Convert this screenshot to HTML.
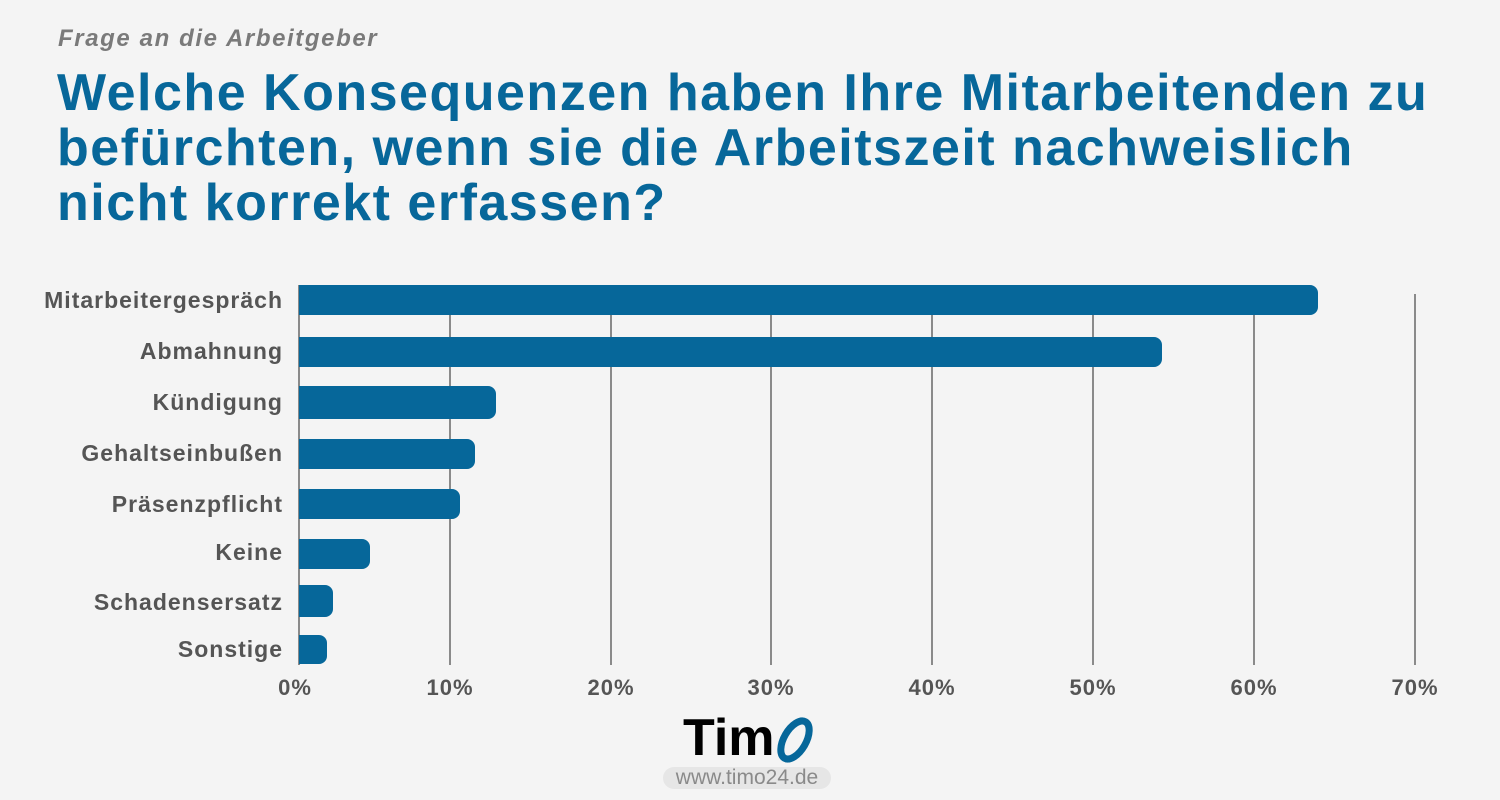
<!DOCTYPE html>
<html><head><style>
body{margin:0;width:1500px;height:800px;background:#f4f4f4;position:relative;overflow:hidden;font-family:"Liberation Sans","DejaVu Sans",sans-serif}
.sub{position:absolute;left:58px;top:25px;font-size:24px;font-style:italic;font-weight:bold;color:#7a7a7a;letter-spacing:1.6px}
.t{position:absolute;left:57px;top:66px;font-size:52px;line-height:55px;font-weight:bold;color:#07679a;letter-spacing:1.5px}
.lab{position:absolute;right:1217px;font-size:23px;font-weight:bold;color:#555;text-align:right;white-space:nowrap;letter-spacing:1px}
.bar{position:absolute;left:299px;background:#06679a;border-radius:0 8px 8px 0}
.g{position:absolute;top:294px;height:371px;width:2px;background:#8a8a8a}
.tk{position:absolute;top:675px;font-size:22px;font-weight:bold;color:#555;width:80px;text-align:center;letter-spacing:1px}
</style></head><body>
<div class="sub">Frage an die Arbeitgeber</div>
<div class="t">Welche Konsequenzen haben Ihre Mitarbeitenden zu<br>befürchten, wenn sie die Arbeitszeit nachweislich<br>nicht korrekt erfassen?</div>
<div class="g" style="left:298px;top:285px;height:380px"></div>
<div class="g" style="left:449px"></div><div class="g" style="left:610px"></div><div class="g" style="left:770px"></div><div class="g" style="left:931px"></div><div class="g" style="left:1092px"></div><div class="g" style="left:1253px"></div><div class="g" style="left:1414px"></div>
<div class="bar" style="top:285px;height:30px;width:1019px"></div>
<div class="bar" style="top:337px;height:30px;width:863px"></div>
<div class="bar" style="top:386px;height:33px;width:197px"></div>
<div class="bar" style="top:439px;height:30px;width:176px"></div>
<div class="bar" style="top:489px;height:30px;width:161px"></div>
<div class="bar" style="top:539px;height:30px;width:71px"></div>
<div class="bar" style="top:585px;height:32px;width:34px"></div>
<div class="bar" style="top:635px;height:29px;width:28px"></div>
<div class="lab" style="top:287px">Mitarbeitergespräch</div>
<div class="lab" style="top:338px">Abmahnung</div>
<div class="lab" style="top:389px">Kündigung</div>
<div class="lab" style="top:440px">Gehaltseinbußen</div>
<div class="lab" style="top:491px">Präsenzpflicht</div>
<div class="lab" style="top:539px">Keine</div>
<div class="lab" style="top:589px">Schadensersatz</div>
<div class="lab" style="top:636px">Sonstige</div>
<div class="tk" style="left:255px">0%</div><div class="tk" style="left:410px">10%</div><div class="tk" style="left:571px">20%</div><div class="tk" style="left:731px">30%</div><div class="tk" style="left:892px">40%</div><div class="tk" style="left:1053px">50%</div><div class="tk" style="left:1214px">60%</div><div class="tk" style="left:1375px">70%</div>
<div style="position:absolute;left:683px;top:708px;font-size:52px;font-weight:bold;color:#000;line-height:60px">Tim</div>
<svg style="position:absolute;left:775px;top:715px" width="45" height="50"><ellipse cx="20" cy="25" rx="11" ry="21" transform="rotate(30 20 25)" fill="none" stroke="#06679a" stroke-width="7"/></svg>
<div style="position:absolute;left:663px;top:767px;width:168px;height:22px;border-radius:11px;background:#e6e6e6;color:#8a8a8a;font-size:21px;text-align:center;line-height:22px">www.timo24.de</div>
</body></html>
